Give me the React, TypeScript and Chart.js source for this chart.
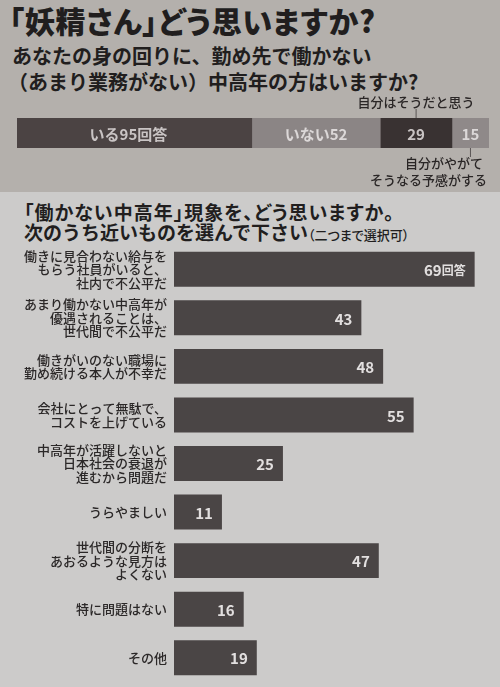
import React, { useEffect, useRef } from "react";
import { Chart, registerables } from "chart.js";

Chart.register(...registerables);

const FONT = '"Noto Sans CJK JP", "Noto Sans", sans-serif';

// Top survey: 「妖精さん」どう思いますか?
const topNames = ["いる", "いない", "自分はそうだと思う", "自分がやがてそうなる予感がする"];
const topValues = [95, 52, 29, 15];
const topColors = ["#4b4343", "#8b8585", "#393232", "#8f8989"];
const topAnnotTop = ["自分はそうだと思う"];
const topAnnotBottom = ["自分がやがて", "そうなる予感がする"];

// Bottom survey
const categories: string[][] = [
  ["働きに見合わない給与を", "もらう社員がいると、", "社内で不公平だ"],
  ["あまり働かない中高年が", "優遇されることは、", "世代間で不公平だ"],
  ["働きがいのない職場に", "勤め続ける本人が不幸だ"],
  ["会社にとって無駄で、", "コストを上げている"],
  ["中高年が活躍しないと", "日本社会の衰退が", "進むから問題だ"],
  ["うらやましい"],
  ["世代間の分断を", "あおるような見方は", "よくない"],
  ["特に問題はない"],
  ["その他"],
];
const values = [69, 43, 48, 55, 25, 11, 47, 16, 19];
const xMax = 70;

function TopChart() {
  const ref = useRef<HTMLCanvasElement | null>(null);
  useEffect(() => {
    if (!ref.current) return;
    const total = topValues.reduce((a, b) => a + b, 0);
    const labelPlugin = {
      id: "segLabels",
      afterDatasetsDraw(chart: any) {
        const ctx = chart.ctx;
        ctx.save();
        chart.data.datasets.forEach((ds: any, i: number) => {
          const el = chart.getDatasetMeta(i).data[0];
          const p = el.getProps(["x", "base", "y", "height"], true);
          const cx = (p.x + p.base) / 2;
          const top = p.y - p.height / 2;
          const bottom = p.y + p.height / 2;
          let txt = String(topValues[i]);
          if (i === 0) txt = `${topNames[i]}${topValues[i]}回答`;
          if (i === 1) txt = `${topNames[i]}${topValues[i]}`;
          ctx.font = `bold 15px ${FONT}`;
          ctx.fillStyle = i % 2 === 0 ? "#c9c4c4" : "#dcd8d8";
          ctx.textAlign = "center";
          ctx.textBaseline = "middle";
          ctx.fillText(txt, cx - (i === 0 ? 6 : 0), p.y + 1);
          ctx.strokeStyle = "#5a5555";
          ctx.lineWidth = 1;
          ctx.fillStyle = "#2a2626";
          ctx.font = `500 13px ${FONT}`;
          if (i === 2) {
            ctx.beginPath();
            ctx.moveTo(cx, top - 9);
            ctx.lineTo(cx, top);
            ctx.stroke();
            ctx.textAlign = "center";
            ctx.textBaseline = "alphabetic";
            ctx.fillText(topAnnotTop[0], cx, top - 11);
          }
          if (i === 3) {
            ctx.beginPath();
            ctx.moveTo(cx, bottom);
            ctx.lineTo(cx, bottom + 9);
            ctx.stroke();
            ctx.textAlign = "right";
            ctx.textBaseline = "top";
            topAnnotBottom.forEach((l, k) => {
              ctx.fillText(l, chart.chartArea.right - 2 - (k === 0 ? 4 : 0), bottom + 9 + k * 17);
            });
          }
        });
        ctx.restore();
      },
    };
    const chart = new Chart(ref.current, {
      type: "bar",
      data: {
        labels: ["妖精さん"],
        datasets: topValues.map((v, i) => ({
          label: topNames[i],
          data: [v],
          backgroundColor: topColors[i],
          borderWidth: 0,
          barPercentage: 1,
          categoryPercentage: 1,
        })),
      },
      options: {
        indexAxis: "y",
        animation: false,
        responsive: false,
        maintainAspectRatio: false,
        layout: { padding: { left: 17, right: 11, top: 23, bottom: 47 } },
        plugins: { legend: { display: false }, tooltip: { enabled: false } },
        scales: {
          x: { stacked: true, min: 0, max: total, display: false },
          y: { stacked: true, display: false },
        },
      },
      plugins: [labelPlugin],
    });
    return () => chart.destroy();
  }, []);
  return (
    <canvas
      ref={ref}
      width={500}
      height={100}
      style={{ position: "absolute", left: 0, top: 95, width: 500, height: 100 }}
    />
  );
}

function BottomChart() {
  const ref = useRef<HTMLCanvasElement | null>(null);
  useEffect(() => {
    if (!ref.current) return;
    const labelPlugin = {
      id: "catLabels",
      afterDatasetsDraw(chart: any) {
        const ctx = chart.ctx;
        ctx.save();
        const yScale = chart.scales.y;
        const meta = chart.getDatasetMeta(0);
        categories.forEach((lines, i) => {
          const cy = yScale.getPixelForValue(i);
          const lh = 13.5;
          ctx.font = `500 13px ${FONT}`;
          ctx.fillStyle = "#2b2828";
          ctx.textAlign = "right";
          ctx.textBaseline = "middle";
          lines.forEach((l, k) => {
            ctx.fillText(l, chart.chartArea.left - 7, cy + (k - (lines.length - 1) / 2) * lh);
          });
          const el = meta.data[i];
          const p = el.getProps(["x", "y"], true);
          ctx.fillStyle = "#e2dfdf";
          ctx.textBaseline = "middle";
          ctx.textAlign = "right";
          if (i === 0) {
            ctx.font = `bold 12px ${FONT}`;
            const suffix = "回答";
            const sw = ctx.measureText(suffix).width;
            ctx.fillText(suffix, p.x - 9, p.y + 1);
            ctx.font = `bold 15px ${FONT}`;
            ctx.fillText(String(values[i]), p.x - 9 - sw, p.y + 1);
          } else {
            ctx.font = `bold 15px ${FONT}`;
            ctx.fillText(String(values[i]), p.x - 9, p.y + 1);
          }
        });
        ctx.restore();
      },
    };
    const chart = new Chart(ref.current, {
      type: "bar",
      data: {
        labels: categories,
        datasets: [
          {
            data: values,
            backgroundColor: "#4a4545",
            borderWidth: 0,
            barPercentage: 0.72,
            categoryPercentage: 1,
          },
        ],
      },
      options: {
        indexAxis: "y",
        animation: false,
        responsive: false,
        maintainAspectRatio: false,
        layout: { padding: { left: 174, right: 21, top: 0, bottom: 5 } },
        plugins: { legend: { display: false }, tooltip: { enabled: false } },
        scales: {
          x: { min: 0, max: xMax, display: false },
          y: { display: false },
        },
      },
      plugins: [labelPlugin],
    });
    return () => chart.destroy();
  }, []);
  return (
    <canvas
      ref={ref}
      width={500}
      height={442}
      style={{ position: "absolute", left: 0, top: 245, width: 500, height: 442 }}
    />
  );
}

export default function App() {
  const palt: any = { fontFeatureSettings: '"palt"' };
  return (
    <div
      style={{
        position: "fixed",
        left: 0,
        top: 0,
        width: 500,
        height: 687,
        overflow: "hidden",
        background: "#cccbca",
        fontFamily: FONT,
        color: "#211e1e",
      }}
    >
      <div style={{ position: "absolute", left: 0, top: 0, width: 500, height: 192, background: "#b4b0ac" }} />
      <div
        style={{
          position: "absolute",
          left: 9,
          top: 4,
          fontSize: 30,
          fontWeight: 900,
          lineHeight: "33px",
          letterSpacing: 0.8,
          whiteSpace: "nowrap",
          ...palt,
        }}
      >
        「妖精さん」どう思いますか?
      </div>
      <div
        style={{
          position: "absolute",
          left: 12,
          top: 43,
          fontSize: 20,
          fontWeight: 700,
          lineHeight: "26px",
          whiteSpace: "nowrap",
        }}
      >
        <div>あなたの身の回りに、勤め先で働かない</div>
        <div style={{ marginLeft: -4 }}>（あまり業務がない）中高年の方はいますか?</div>
      </div>
      <TopChart />
      <div
        style={{
          position: "absolute",
          left: 24,
          top: 202,
          fontSize: 19,
          fontWeight: 700,
          lineHeight: "20px",
          whiteSpace: "nowrap",
        }}
      >
        <div style={{ ...palt, letterSpacing: 1 }}>「働かない中高年」現象を、どう思いますか。</div>
        <div>
          次のうち近いものを選んで下さい
          <span style={{ fontSize: 13, fontWeight: 500, ...palt }}>（二つまで選択可）</span>
        </div>
      </div>
      <BottomChart />
    </div>
  );
}
